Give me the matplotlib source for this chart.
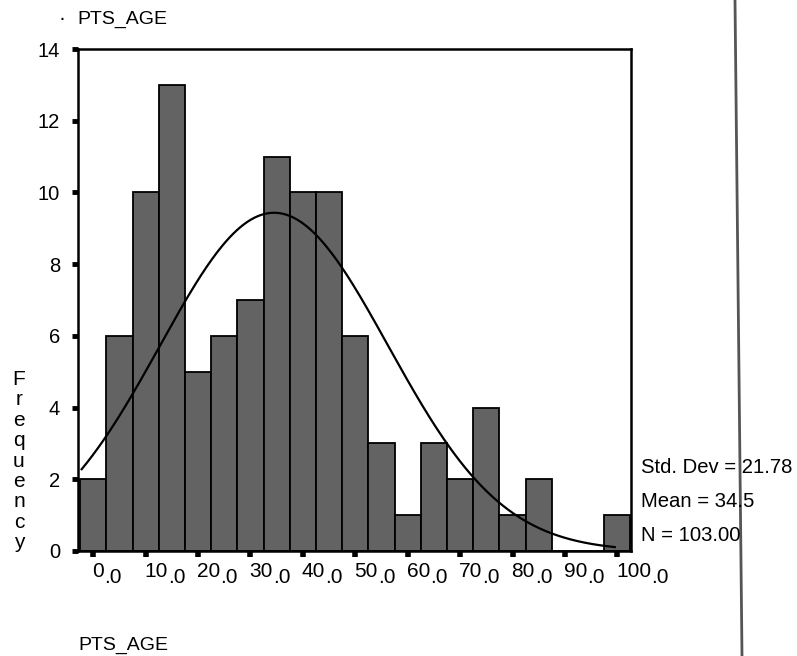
import numpy as np
import matplotlib
matplotlib.use("Agg")
import matplotlib.pyplot as plt
import matplotlib.transforms as mtransforms
from matplotlib.lines import Line2D

plt.rcParams['font.family'] = ['Liberation Sans', 'DejaVu Sans']

# Histogram of PTS_AGE, bins of width 5 centred on multiples of 5
bin_centers = [0, 5, 10, 15, 20, 25, 30, 35, 40, 45, 50,
               55, 60, 65, 70, 75, 80, 85, 90, 95, 100]
counts = [2, 6, 10, 13, 5, 6, 7, 11, 10, 10, 6,
          3, 1, 3, 2, 4, 1, 2, 0, 0, 1]
bin_width = 5
std_dev = 21.78
mean = 34.5
n_obs = 103
x_ticks = [0, 10, 20, 30, 40, 50, 60, 70, 80, 90, 100]
y_ticks = [0, 2, 4, 6, 8, 10, 12, 14]

W, H = 797, 656
fig = plt.figure(figsize=(W / 100, H / 100), dpi=100)
ax = fig.add_axes([78 / W, 1 - 551 / H, (631 - 78) / W, (551 - 49) / H])

ax.bar(bin_centers, counts, width=bin_width, color='#636363',
       edgecolor='black', linewidth=1.3, zorder=2)

# Fitted normal curve scaled to the histogram
xs = np.linspace(-2.2, 99.5, 300)
ys = n_obs * bin_width / (std_dev * np.sqrt(2 * np.pi)) * \
    np.exp(-0.5 * ((xs - mean) / std_dev) ** 2)
ax.plot(xs, ys, color='black', linewidth=1.6, zorder=3)

ax.set_xlim(-2.9, 102.6)
ax.set_ylim(0, 14)
for s in ax.spines.values():
    s.set_linewidth(1.8)
    s.set_color('black')

ax.set_yticks(y_ticks)
ax.set_yticklabels([str(v) for v in y_ticks], fontsize=14.5)
ax.set_xticks(x_ticks)
ax.set_xticklabels([])
ax.tick_params(axis='y', direction='out', length=4, width=3.5, pad=9)
ax.tick_params(axis='x', direction='out', length=4, width=4, pad=2)

# x tick labels: integer part raised, ".0" dropped slightly
base = mtransforms.blended_transform_factory(ax.transData, ax.transAxes)
for v in x_ticks:
    tr = mtransforms.offset_copy(base, fig=fig, x=-1, y=-11, units='dots')
    t = ax.text(v, 0, str(v), transform=tr, ha='left', va='top', fontsize=15)
    ax.annotate('.0', xy=(1, 0), xycoords=t, xytext=(0, -6),
                textcoords='offset pixels', ha='left', va='bottom',
                fontsize=15, annotation_clip=False)

# Vertical axis title written one letter per line
letters = "Frequency"
for i, ch in enumerate(letters):
    y_px = 385 + i * 20.4
    fig.text(19 / W, 1 - y_px / H, ch, ha='center', va='baseline', fontsize=15)

# Titles
fig.text(62 / W, 1 - 19 / H, '\u00b7', ha='center', va='center', fontsize=15)
fig.text(77 / W, 1 - 24 / H, 'PTS_AGE', ha='left', va='baseline', fontsize=14)
fig.text(78 / W, 1 - 650 / H, 'PTS_AGE', ha='left', va='baseline', fontsize=14)

# Summary statistics
fig.text(641 / W, 1 - 473 / H, f'Std. Dev = {std_dev:.2f}', ha='left',
         va='baseline', fontsize=14.6)
fig.text(641 / W, 1 - 507 / H, f'Mean = {mean}', ha='left',
         va='baseline', fontsize=14.6)
fig.text(641 / W, 1 - 541 / H, f'N = {n_obs:.2f}', ha='left',
         va='baseline', fontsize=14.6)

# Page divider on the right
fig.add_artist(Line2D([735 / W, 742 / W], [1, 0], transform=fig.transFigure,
                      color='#555555', linewidth=2))

fig.savefig('out.png', dpi=100)
